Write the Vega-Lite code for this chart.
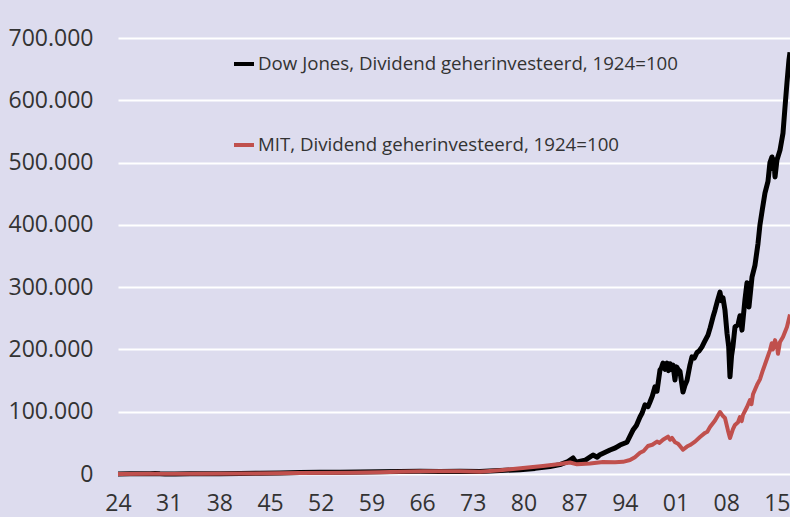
{
  "$schema": "https://vega.github.io/schema/vega-lite/v6.json",
  "width": 672,
  "height": 436,
  "autosize": {"type": "none"},
  "padding": {"left": 118, "top": 38, "right": 0, "bottom": 43},
  "background": "#dddcee",
  "config": {"view": {"stroke": null}, "font": "Open Sans"},
  "datasets": {
    "dow": [
      {"t": 1924.00, "v": 100}, {"t": 1925.66, "v": 250}, {"t": 1927.04, "v": 400}, {"t": 1928.42, "v": 600},
      {"t": 1929.11, "v": 700}, {"t": 1929.80, "v": 300}, {"t": 1930.49, "v": 150}, {"t": 1931.87, "v": 200},
      {"t": 1933.94, "v": 500}, {"t": 1936.02, "v": 400}, {"t": 1938.09, "v": 500}, {"t": 1940.85, "v": 800},
      {"t": 1943.61, "v": 1200}, {"t": 1946.38, "v": 1800}, {"t": 1949.14, "v": 2300}, {"t": 1951.90, "v": 2700},
      {"t": 1954.66, "v": 3000}, {"t": 1957.43, "v": 3200}, {"t": 1960.19, "v": 3500}, {"t": 1962.95, "v": 3900},
      {"t": 1965.71, "v": 4300}, {"t": 1968.48, "v": 4200}, {"t": 1971.24, "v": 4600}, {"t": 1974.00, "v": 4000},
      {"t": 1976.76, "v": 5500}, {"t": 1979.52, "v": 7000}, {"t": 1981.60, "v": 9000}, {"t": 1983.67, "v": 12000},
      {"t": 1985.05, "v": 15000}, {"t": 1986.15, "v": 20000}, {"t": 1986.85, "v": 25700}, {"t": 1987.26, "v": 19000},
      {"t": 1988.50, "v": 22000}, {"t": 1989.61, "v": 30500}, {"t": 1990.20, "v": 27000}, {"t": 1990.57, "v": 31000},
      {"t": 1991.96, "v": 38500}, {"t": 1992.70, "v": 42000}, {"t": 1993.34, "v": 46500}, {"t": 1994.30, "v": 51000},
      {"t": 1995.13, "v": 70600}, {"t": 1995.60, "v": 78000}, {"t": 1996.10, "v": 91500}, {"t": 1996.40, "v": 98000},
      {"t": 1996.79, "v": 111000}, {"t": 1997.20, "v": 108000}, {"t": 1997.48, "v": 115600}, {"t": 1997.80, "v": 125000},
      {"t": 1998.17, "v": 140000}, {"t": 1998.45, "v": 133000}, {"t": 1998.86, "v": 167000}, {"t": 1999.05, "v": 170000},
      {"t": 1999.28, "v": 178000}, {"t": 1999.55, "v": 168000}, {"t": 1999.83, "v": 178000}, {"t": 2000.05, "v": 166000},
      {"t": 2000.24, "v": 177000}, {"t": 2000.45, "v": 168000}, {"t": 2000.66, "v": 175000}, {"t": 2000.93, "v": 151000},
      {"t": 2001.15, "v": 172000}, {"t": 2001.35, "v": 168000}, {"t": 2001.62, "v": 165000}, {"t": 2002.04, "v": 131600},
      {"t": 2002.30, "v": 142000}, {"t": 2002.59, "v": 150000}, {"t": 2003.00, "v": 175000}, {"t": 2003.28, "v": 188000},
      {"t": 2003.60, "v": 186000}, {"t": 2003.97, "v": 195000}, {"t": 2004.30, "v": 198000}, {"t": 2004.66, "v": 204000},
      {"t": 2005.00, "v": 212000}, {"t": 2005.49, "v": 223000}, {"t": 2005.80, "v": 235000}, {"t": 2006.18, "v": 252000},
      {"t": 2006.46, "v": 263000}, {"t": 2006.80, "v": 278000}, {"t": 2007.15, "v": 292000}, {"t": 2007.35, "v": 278000},
      {"t": 2007.56, "v": 283000}, {"t": 2007.84, "v": 263000}, {"t": 2008.12, "v": 226000}, {"t": 2008.35, "v": 205000},
      {"t": 2008.53, "v": 156000}, {"t": 2008.75, "v": 190000}, {"t": 2008.94, "v": 205000}, {"t": 2009.22, "v": 236000},
      {"t": 2009.64, "v": 240000}, {"t": 2009.91, "v": 254000}, {"t": 2010.19, "v": 231000}, {"t": 2010.60, "v": 280000},
      {"t": 2010.88, "v": 307000}, {"t": 2011.15, "v": 268000}, {"t": 2011.57, "v": 316000}, {"t": 2011.98, "v": 335000},
      {"t": 2012.40, "v": 370000}, {"t": 2012.67, "v": 400000}, {"t": 2013.00, "v": 425000}, {"t": 2013.36, "v": 451000},
      {"t": 2013.78, "v": 470000}, {"t": 2014.05, "v": 500000}, {"t": 2014.33, "v": 509000}, {"t": 2014.47, "v": 490000},
      {"t": 2014.60, "v": 505000}, {"t": 2014.75, "v": 477000}, {"t": 2015.02, "v": 504000}, {"t": 2015.44, "v": 520000},
      {"t": 2015.85, "v": 547000}, {"t": 2016.13, "v": 589000}, {"t": 2016.40, "v": 628000}, {"t": 2016.68, "v": 665000},
      {"t": 2016.82, "v": 677000}
    ],
    "mit": [
      {"t": 1924.00, "v": 100}, {"t": 1928.42, "v": 300}, {"t": 1929.11, "v": 400}, {"t": 1930.49, "v": 200},
      {"t": 1935.33, "v": 400}, {"t": 1942.23, "v": 800}, {"t": 1949.14, "v": 1500}, {"t": 1956.04, "v": 2200},
      {"t": 1960.19, "v": 3000}, {"t": 1962.95, "v": 3500}, {"t": 1966.13, "v": 4500}, {"t": 1968.48, "v": 4300},
      {"t": 1971.24, "v": 4600}, {"t": 1974.00, "v": 3500}, {"t": 1976.76, "v": 6000}, {"t": 1979.94, "v": 9500},
      {"t": 1982.70, "v": 12800}, {"t": 1985.05, "v": 16000}, {"t": 1986.43, "v": 18500}, {"t": 1987.40, "v": 15500},
      {"t": 1989.19, "v": 17000}, {"t": 1990.99, "v": 19300}, {"t": 1992.65, "v": 19000}, {"t": 1993.75, "v": 19500},
      {"t": 1994.72, "v": 22500}, {"t": 1995.40, "v": 27000}, {"t": 1996.10, "v": 34000}, {"t": 1996.60, "v": 37000},
      {"t": 1997.20, "v": 45000}, {"t": 1997.80, "v": 47000}, {"t": 1998.45, "v": 52000}, {"t": 1998.80, "v": 50000},
      {"t": 1999.28, "v": 55000}, {"t": 1999.97, "v": 60000}, {"t": 2000.25, "v": 55000}, {"t": 2000.52, "v": 58000},
      {"t": 2000.93, "v": 51000}, {"t": 2001.30, "v": 49000}, {"t": 2001.62, "v": 45000}, {"t": 2002.04, "v": 39000},
      {"t": 2002.59, "v": 44000}, {"t": 2003.01, "v": 46500}, {"t": 2003.70, "v": 52000}, {"t": 2004.39, "v": 59400},
      {"t": 2005.08, "v": 66000}, {"t": 2005.40, "v": 68000}, {"t": 2005.77, "v": 75500}, {"t": 2006.46, "v": 86000},
      {"t": 2007.15, "v": 99500}, {"t": 2007.56, "v": 93000}, {"t": 2007.84, "v": 90000}, {"t": 2008.25, "v": 70000},
      {"t": 2008.53, "v": 57800}, {"t": 2008.94, "v": 72000}, {"t": 2009.22, "v": 78700}, {"t": 2009.64, "v": 83000},
      {"t": 2009.91, "v": 91500}, {"t": 2010.15, "v": 85000}, {"t": 2010.33, "v": 95000}, {"t": 2010.88, "v": 107600},
      {"t": 2011.29, "v": 118800}, {"t": 2011.50, "v": 112000}, {"t": 2011.71, "v": 128000}, {"t": 2012.26, "v": 143000},
      {"t": 2012.67, "v": 152000}, {"t": 2013.09, "v": 167000}, {"t": 2013.64, "v": 185000}, {"t": 2014.06, "v": 199000},
      {"t": 2014.30, "v": 210000}, {"t": 2014.47, "v": 200000}, {"t": 2014.75, "v": 215000}, {"t": 2015.02, "v": 205000},
      {"t": 2015.16, "v": 193000}, {"t": 2015.44, "v": 212000}, {"t": 2015.85, "v": 220000}, {"t": 2016.40, "v": 236000},
      {"t": 2016.82, "v": 256000}
    ]
  },
  "encoding": {
    "x": {
      "field": "t", "type": "quantitative",
      "scale": {"domain": [1924, 2016.82], "nice": false, "zero": false},
      "axis": {
        "title": null, "grid": false, "domain": false, "ticks": false,
        "values": [1924, 1931, 1938, 1945, 1952, 1959, 1966, 1973, 1980, 1987, 1994, 2001, 2008, 2015],
        "labelExpr": "(datum.value % 100 < 10 ? '0' : '') + (datum.value % 100)",
        "labelFontSize": 23, "labelColor": "#333333", "labelPadding": 18, "labelFlush": false, "labelOverlap": false
      }
    },
    "y": {
      "field": "v", "type": "quantitative",
      "scale": {"domain": [0, 700000], "nice": false},
      "axis": {
        "title": null, "domain": false, "ticks": false,
        "values": [0, 100000, 200000, 300000, 400000, 500000, 600000, 700000],
        "labelExpr": "datum.value == 0 ? '0' : format(datum.value / 1000, 'd') + '.000'",
        "gridColor": "#ffffff", "gridWidth": 2, "gridOpacity": 1,
        "labelFontSize": 23, "labelColor": "#333333", "labelPadding": 25
      }
    },
    "color": {
      "field": "s", "type": "nominal",
      "scale": {"domain": ["Dow Jones", "MIT"], "range": ["#000000", "#c0504d"]},
      "legend": {
        "orient": "none", "legendX": 114, "legendY": 14, "title": null,
        "symbolType": "stroke", "symbolSize": 400, "symbolStrokeWidth": 4,
        "labelExpr": "datum.label + ', Dividend geherinvesteerd, 1924=100'",
        "labelFontSize": 18.7, "labelColor": "#333333", "labelOffset": 2, "rowPadding": 59, "labelLimit": 600
      }
    }
  },
  "layer": [
    {
      "data": {"name": "dow"},
      "transform": [{"calculate": "'Dow Jones'", "as": "s"}],
      "mark": {"type": "line", "strokeWidth": 5, "strokeJoin": "round"}
    },
    {
      "data": {"name": "mit"},
      "transform": [{"calculate": "'MIT'", "as": "s"}],
      "mark": {"type": "line", "strokeWidth": 4, "strokeJoin": "round"}
    }
  ]
}
